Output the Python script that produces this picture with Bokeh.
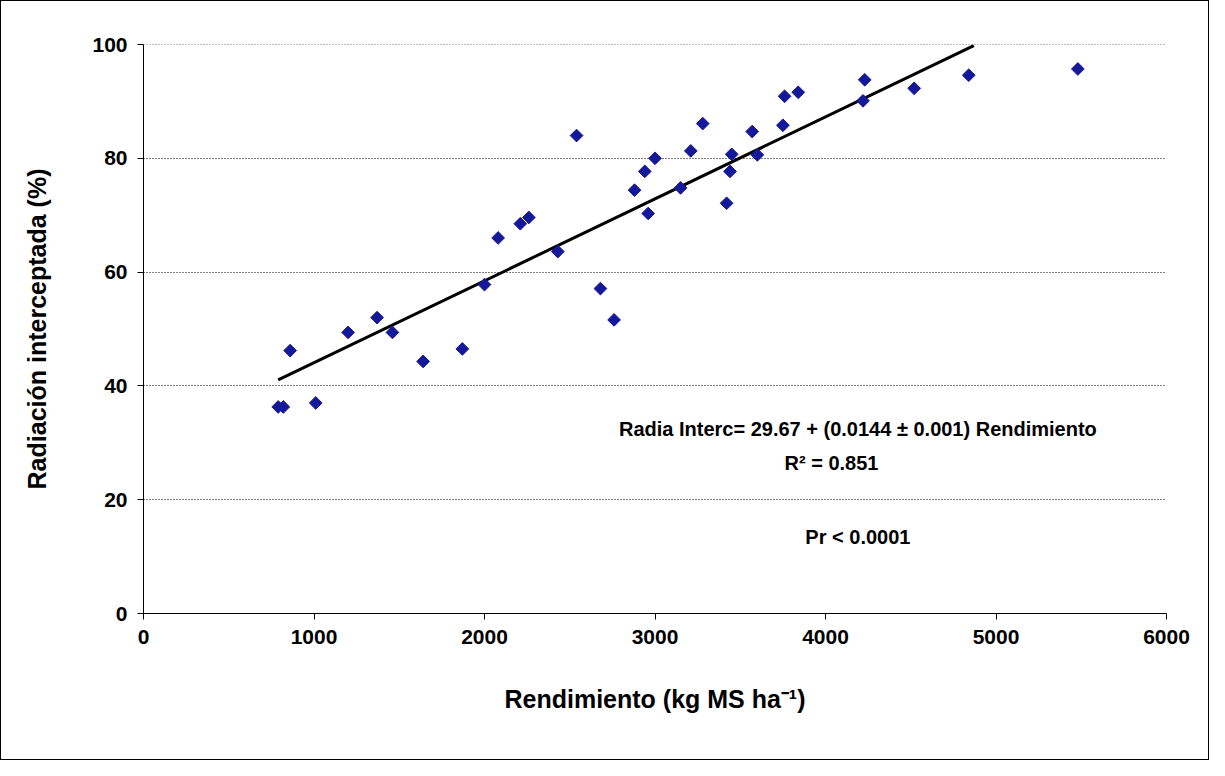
import math
from bokeh.plotting import figure
from bokeh.models import Label, SingleIntervalTicker, Span
from bokeh.embed import file_html
from bokeh.resources import INLINE

rend = [790, 820, 860, 1010, 1200, 1370, 1460, 1640, 1870, 2000, 2080, 2210, 2260,
        2430, 2540, 2680, 2760, 2880, 2940, 2960, 3000, 3150, 3210, 3280, 3420, 3440,
        3450, 3570, 3600, 3750, 3760, 3840, 4220, 4230, 4520, 4840, 5480]
rad = [36.3, 36.3, 46.2, 37.0, 49.4, 52.0, 49.4, 44.3, 46.5, 57.8, 66.0, 68.5, 69.6,
       63.6, 84.0, 57.1, 51.6, 74.4, 77.7, 70.3, 80.0, 74.8, 81.3, 86.1, 72.1, 77.7,
       80.7, 84.7, 80.6, 85.8, 90.9, 91.6, 90.1, 93.8, 92.3, 94.6, 95.7]
fit_x = [790, 4870]
a, b = 29.67, 0.0144
fit_y = [a + b * x for x in fit_x]

font = "Liberation Sans"
p = figure(width=1209, height=760, x_range=(0, 6000), y_range=(0, 100),
           output_backend="svg", toolbar_location=None,
           min_border_left=142, min_border_top=43, min_border_right=44, min_border_bottom=148)
p.styles = {"border": "1px solid black"}
p.outline_line_color = None
p.xgrid.visible = False
p.ygrid.grid_line_color = "black"
p.ygrid.grid_line_dash = "1 2"
p.add_layout(Span(location=100, dimension="width", line_color="black", line_dash="1 2"))
p.xaxis.ticker = SingleIntervalTicker(interval=1000)
p.yaxis.ticker = SingleIntervalTicker(interval=20)
for ax in (p.xaxis, p.yaxis):
    ax.minor_tick_line_color = None
    ax.major_tick_in = 0
    ax.major_tick_out = 6
    ax.axis_line_color = "black"
    ax.major_tick_line_color = "black"
    ax.major_label_text_font = font
    ax.major_label_text_font_style = "bold"
    ax.major_label_text_font_size = "21px"
    ax.major_label_text_color = "black"
    ax.axis_label_text_font = font
    ax.axis_label_text_font_style = "bold"
    ax.axis_label_text_font_size = "25px"
    ax.axis_label_text_color = "black"
    ax.axis_label_standoff = 38
p.yaxis.major_label_standoff = 10
p.xaxis.major_label_standoff = 10
p.xaxis.axis_label = "Rendimiento (kg MS ha\u207b\u00b9)"
p.yaxis.axis_label = "Radiación interceptada (%)"

p.line(fit_x, fit_y, line_color="black", line_width=3)
p.scatter(rend, rad, marker="square", angle=math.pi / 4, size=9, color="#16189a")

for txt, x, y in [("Radia Interc= 29.67 + (0.0144 \u00b1 0.001) Rendimiento", 4190, 32.5),
                  ("R\u00b2 = 0.851", 4035, 26.4),
                  ("Pr < 0.0001", 4190, 13.5)]:
    p.add_layout(Label(x=x, y=y, text=txt, text_align="center", text_baseline="middle",
                       text_font=font, text_font_style="bold",
                       text_font_size="20px", text_color="black"))

open("out.html", "w").write(file_html(p, INLINE))
